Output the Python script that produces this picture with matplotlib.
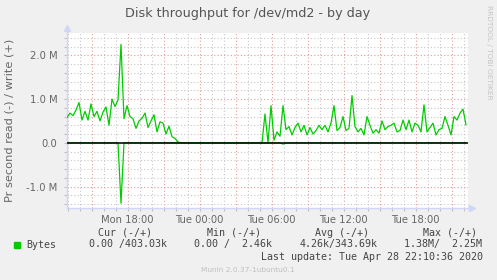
import matplotlib
matplotlib.use("Agg")
import matplotlib.pyplot as plt
import numpy as np

# write (+) and read (-) throughput in MB/s, one sample every 15 min
start_hour = 12.95   # Mon 12:57 (hours since Mon 00:00)
step_hour = 0.25

write_mb = [
    0.58, 0.68, 0.62, 0.75, 0.92, 0.52, 0.72, 0.52, 0.89, 0.60,
    0.72, 0.50, 0.70, 0.82, 0.40, 1.00, 0.83, 0.98, 2.25, 0.55,
    0.85, 0.60, 0.55, 0.33, 0.50, 0.56, 0.68, 0.35, 0.50, 0.64,
    0.25, 0.48, 0.45, 0.20, 0.38, 0.14, 0.10, 0.02, 0.00, 0.00,
    0.00, 0.00, 0.00, 0.00, 0.00, 0.00, 0.00, 0.00, 0.00, 0.00,
    0.00, 0.00, 0.00, 0.00, 0.00, 0.00, 0.00, 0.00, 0.00, 0.00,
    0.00, 0.00, 0.00, 0.00, 0.00, 0.00, 0.66, 0.00, 0.85, 0.06,
    0.25, 0.15, 0.85, 0.30, 0.37, 0.18, 0.35, 0.45, 0.25, 0.40,
    0.18, 0.35, 0.20, 0.28, 0.40, 0.30, 0.40, 0.25, 0.45, 0.85,
    0.28, 0.35, 0.60, 0.28, 0.33, 1.08, 0.37, 0.25, 0.33, 0.18,
    0.60, 0.40, 0.22, 0.30, 0.22, 0.50, 0.30, 0.37, 0.40, 0.45,
    0.25, 0.28, 0.52, 0.30, 0.52, 0.25, 0.45, 0.40, 0.25, 0.87,
    0.25, 0.35, 0.45, 0.18, 0.30, 0.33, 0.60, 0.40, 0.18, 0.60,
    0.52, 0.68, 0.77, 0.41,
]
read_mb = [
    0.00, 0.00, 0.00, 0.00, 0.00, 0.00, 0.00, 0.00, 0.00, 0.00,
    0.00, 0.00, 0.00, 0.00, 0.00, 0.00, 0.00, 0.00, -1.38, 0.00,
    0.00, 0.00, 0.00, 0.00, 0.00, 0.00, 0.00, 0.00, 0.00, 0.00,
    0.00, 0.00, 0.00, 0.00, 0.00, 0.00, 0.00, 0.00, 0.00, 0.00,
    0.00, 0.00, 0.00, 0.00, 0.00, 0.00, 0.00, 0.00, 0.00, 0.00,
    0.00, 0.00, 0.00, 0.00, 0.00, 0.00, 0.00, 0.00, 0.00, 0.00,
    0.00, 0.00, 0.00, 0.00, 0.00, 0.00, 0.00, 0.00, 0.00, 0.00,
    0.00, 0.00, -0.03, 0.00, 0.00, 0.00, 0.00, 0.00, 0.00, 0.00,
    0.00, 0.00, 0.00, 0.00, 0.00, 0.00, 0.00, 0.00, 0.00, 0.00,
    0.00, 0.00, 0.00, 0.00, 0.00, 0.00, 0.00, 0.00, 0.00, 0.00,
    0.00, 0.00, 0.00, 0.00, 0.00, 0.00, 0.00, 0.00, 0.00, 0.00,
    0.00, 0.00, 0.00, 0.00, 0.00, 0.00, 0.00, 0.00, 0.00, 0.00,
    0.00, 0.00, 0.00, 0.00, 0.00, 0.00, 0.00, 0.00, 0.00, 0.00,
    0.00, 0.00, 0.00, 0.00,
]

x_ticks = [18, 24, 30, 36, 42]
x_labels = ['Mon 18:00', 'Tue 00:00', 'Tue 06:00', 'Tue 12:00', 'Tue 18:00']
y_ticks = [-1.0, 0.0, 1.0, 2.0]
y_labels = ['-1.0 M', '0.0', '1.0 M', '2.0 M']

legend_heads = ['Cur (-/+)', 'Min (-/+)', 'Avg (-/+)', 'Max (-/+)']
legend_vals = ['0.00 /403.03k', '0.00 /  2.46k', '4.26k/343.69k', '1.38M/  2.25M']

W, H = 497, 280
BACK = '#F0F0F0'
FONT = '#666666'
AXIS = '#CFD6F8'
GREEN = '#00CC00'


def fx(px):
    return px / W


def fy(py):
    return 1 - py / H


fig = plt.figure(figsize=(W / 100, H / 100), dpi=100, facecolor=BACK)
ax = fig.add_axes([fx(67), fy(208), (468 - 67) / W, (208 - 33) / H])
ax.set_facecolor('white')

t = start_hour + step_hour * np.arange(len(write_mb))
x0, x1 = start_hour, start_hour + (468 - 67) / 12.0
ax.set_xlim(x0, x1)
ax.set_ylim(-1.49, 2.51)

# grid: minor every hour / 0.2M, major every 3h / 1M
minor_x = np.arange(13, 47, 1)
major_x = np.arange(15, 47, 3)
minor_y = np.arange(-1.4, 2.5, 0.2)
major_y = [-1.0, 0.0, 1.0, 2.0]
for v in minor_x:
    if v not in major_x:
        ax.axvline(v, color='#c8c8c8', lw=0.8, ls=(0, (1, 2)), zorder=1)
for v in major_x:
    ax.axvline(v, color='#e59a9a', lw=0.8, ls=(0, (1, 2)), zorder=1)
for v in minor_y:
    if not any(abs(v - m) < 1e-6 for m in major_y):
        ax.axhline(v, color='#c8c8c8', lw=0.8, ls=(0, (1, 2)), zorder=1)
for v in major_y:
    ax.axhline(v, color='#e59a9a', lw=0.8, ls=(0, (1, 2)), zorder=1)

ax.plot(t, write_mb, color=GREEN, lw=0.9, zorder=3)
ax.plot(t, read_mb, color=GREEN, lw=0.9, zorder=3)
ax.axhline(0, color='black', lw=1.1, zorder=4)

for s in ['top', 'right']:
    ax.spines[s].set_visible(False)
for s in ['left', 'bottom']:
    ax.spines[s].set_color(AXIS)
    ax.spines[s].set_linewidth(1.0)

# axis extensions with arrows
ax.plot([0, 0], [1.0, 1.025], color=AXIS, lw=1.0, transform=ax.transAxes, clip_on=False)
ax.plot(0, 1.03, marker='^', color=AXIS, ms=4, transform=ax.transAxes, clip_on=False)
ax.plot([1.0, 1.008], [0, 0], color=AXIS, lw=1.0, transform=ax.transAxes, clip_on=False)
ax.plot(1.01, 0, marker='>', color=AXIS, ms=4, transform=ax.transAxes, clip_on=False)

ax.set_xticks(x_ticks)
ax.set_xticklabels(x_labels)
ax.set_xticks(minor_x, minor=True)
ax.set_yticks(y_ticks)
ax.set_yticklabels(y_labels)
ax.set_yticks(minor_y, minor=True)
ax.tick_params(which='both', length=2, width=0.8, color='#c0c0c0',
               labelcolor=FONT, labelsize=7.2)
ax.tick_params(axis='x', pad=3)
ax.tick_params(axis='y', pad=5)

fig.text(fx(248), fy(13), 'Disk throughput for /dev/md2 - by day',
         ha='center', va='center', fontsize=9.2, color='#555555')
fig.text(fx(10), fy(120), 'Pr second read (-) / write (+)', rotation=90,
         ha='center', va='center', fontsize=8.2, color=FONT)
fig.text(fx(489), fy(5), 'RRDTOOL / TOBI OETIKER', rotation=270,
         ha='center', va='top', fontsize=5.3, color='#c4c4c4')

mono = 'DejaVu Sans Mono'
fig.patches.append(plt.Rectangle((fx(14), fy(247.5)), 6 / W, 6 / H,
                                 transform=fig.transFigure, color=GREEN))
fig.text(fx(26.5), fy(244.5), 'Bytes', family=mono, fontsize=7.2,
         color='#444444', ha='left', va='center')
head_x = [98.3, 206.7, 315, 422.7]
val_x = [89.3, 194.3, 299.3, 404.3]
for hx, vx, head, val in zip(head_x, val_x, legend_heads, legend_vals):
    fig.text(fx(hx), fy(232.5), head, family=mono, fontsize=7.2,
             color='#444444', ha='left', va='center')
    fig.text(fx(vx), fy(244.5), val, family=mono, fontsize=7.2,
             color='#444444', ha='left', va='center')
fig.text(fx(483), fy(256.7), 'Last update: Tue Apr 28 22:10:36 2020',
         family=mono, fontsize=7.2, color='#444444', ha='right', va='center')
fig.text(fx(248), fy(269.5), 'Munin 2.0.37-1ubuntu0.1', fontsize=5.3,
         color='#c0c0c0', ha='center', va='center')

fig.savefig('out.png', dpi=100, facecolor=BACK)
